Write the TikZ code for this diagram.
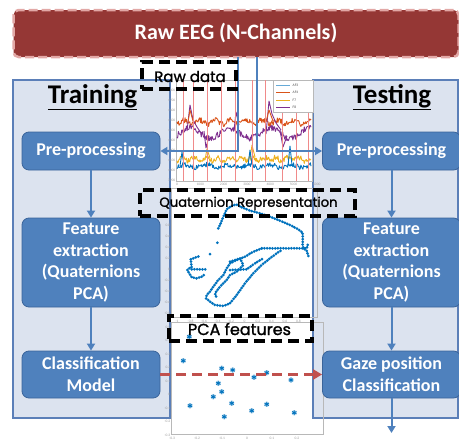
\documentclass[tikz,border=0pt]{standalone}
\usepackage{fontspec}
\setmainfont{Carlito}
\newfontfamily\tagfont{Poppins}[FakeBold=1.4]
\usetikzlibrary{arrows.meta,plotmarks,calc}

\definecolor{panelfill}{HTML}{DCE3EF}
\definecolor{panelline}{HTML}{5B7FB8}
\definecolor{boxfill}{HTML}{4F81BD}
\definecolor{boxline}{HTML}{3A649A}
\definecolor{bannerfill}{HTML}{953735}
\definecolor{bannerline}{HTML}{E2A8A6}
\definecolor{flowred}{HTML}{C0504D}
\definecolor{mblue}{HTML}{0072BD}
\definecolor{morange}{HTML}{D95319}
\definecolor{myellow}{HTML}{EDB120}
\definecolor{mpurple}{HTML}{7E2F8E}
\definecolor{eventred}{HTML}{F08A8A}
\definecolor{axisgray}{HTML}{9A9A9A}

\tikzset{
  panel/.style={draw=panelline, line width=1.5pt, fill=panelfill, inner sep=0pt},
  stepbox/.style={draw=boxline, line width=0.8pt, fill=boxfill, rounded corners=7pt,
    text=white, font=\bfseries\fontsize{18}{21.7}\selectfont, align=center,
    minimum width=138pt, inner sep=2pt},
  paneltitle/.style={font=\bfseries\fontsize{27}{30}\selectfont, text=black, inner sep=0pt},
  banner/.style={fill=bannerfill, draw=bannerline, line width=2.5pt, dash pattern=on 9pt off 4pt,
    rounded corners=5pt, text=white, font=\bfseries\fontsize{22}{26}\selectfont,
    minimum width=445pt, minimum height=47pt},
  flowline/.style={draw=boxfill, line width=2.6pt, -{Triangle[length=7pt,width=8pt]}},
  innerflow/.style={draw=boxfill, line width=2pt, -{Triangle[length=7pt,width=8pt]}},
  redflow/.style={draw=flowred, line width=3pt, dash pattern=on 10pt off 6pt,
    -{Triangle[length=9pt,width=10pt]}},
  tagbox/.style={draw=black, line width=3.2pt, dash pattern=on 11pt off 6pt, inner sep=0pt},
  tagtext/.style={inner sep=0pt},
  ticklabel/.style={font=\fontsize{3.6}{4}\selectfont, text=axisgray, inner sep=0.5pt},
  axisframe/.style={draw=axisgray!70, line width=0.4pt},
  trace/.style={line width=0.9pt, line join=round},
  quatdots/.style={draw=mblue, line width=3pt, dash pattern=on 0pt off 2.7pt, line cap=round, line join=round},
}

\begin{document}
\begin{tikzpicture}[x=1pt,y=-1pt]
\useasboundingbox (0,0) rectangle (459,439);
\clip (0,0) rectangle (459,439);
\pgfmathsetseed{42}

% ---- the two panels ----
\node[panel, minimum width=157pt, minimum height=338pt] (trainpanel) at (91.5,249) {};
\node[panel, minimum width=145pt, minimum height=338pt] (testpanel) at (385.5,249) {};

% ---- raw EEG traces ----
\draw[axisframe] (176,80) rectangle (312,181);
\draw[trace, morange] plot[domain=177:311, samples=200] (\x, {122 + 2.8*rand + 2*sin(\x*23)});
\draw[trace, mpurple] plot[domain=177:311, samples=200] (\x, {133 + 3.2*rand + 5*sin(\x*9)});
\draw[trace, myellow] plot[domain=177:311, samples=200] (\x, {159 + 3*rand + 1.5*sin(\x*31)});
\draw[trace, mblue] plot[domain=177:311, samples=200] (\x, {166 + 2.4*rand + 1.5*sin(\x*17)});
% large transients
\draw[trace, mpurple] (187,131) -- (190,105) -- (193,120) -- (197,127) -- (201,133);
\draw[trace, mpurple] (266,134) -- (269,101) -- (272,114) -- (276,123) -- (281,130);
\draw[trace, mpurple] (204,131) -- (206,148) -- (209,136);
\draw[trace, mpurple] (280,130) -- (283,147) -- (287,136);
\draw[trace, mpurple] (234,131) -- (236,112) -- (239,125);
\draw[trace, myellow] (205,160) -- (207,149) -- (210,158);
\draw[trace, myellow] (250,159) -- (252,145) -- (255,157);
\draw[trace, mblue] (288,166) -- (290,146) -- (292,165);
\draw[trace, mblue] (248,166) -- (250,150) -- (252,165);
\draw[trace, mblue] (180,166) -- (182,152) -- (184,165);
\draw[trace, morange] (266,122) -- (269,110) -- (273,121);
\draw[trace, morange] (188,122) -- (190,110) -- (193,121);
% event markers
\foreach \ex in {183,193,207,221,235,252,265,282,296,308}
  \draw[eventred, line width=0.7pt] (\ex,80) -- (\ex,181);
% legend
\draw[axisframe, fill=white] (273,80) rectangle (313,112);
\draw[mblue!60, line width=0.8pt] (276,85) -- (290,85);
\draw[morange, line width=0.8pt] (276,92.3) -- (290,92.3);
\draw[myellow, line width=0.8pt] (276,100) -- (290,100);
\draw[mpurple, line width=0.8pt] (276,107.3) -- (290,107.3);
\node[ticklabel, anchor=west, text=black!70] (legA) at (292,85) {AF3};
\node[ticklabel, anchor=west, text=black!70] (legB) at (292,92.3) {AF4};
\node[ticklabel, anchor=west, text=black!70] (legC) at (292,100) {F7};
\node[ticklabel, anchor=west, text=black!70] (legD) at (292,107.3) {F8};
% raw axes ticks
\foreach \v [count=\i from 0] in {0,1000,2000,3000,4000,5000,6000}
  \node[ticklabel] (rx\i) at ({177+23.3*\i},184.5) {\v};
\foreach \v [count=\i from 0] in {4800,4700,4600,4500,4400,4300,4200,4100,4000,3900}
  \node[ticklabel, anchor=east] (ry\i) at (176,{90+10*\i}) {\v};

% ---- quaternion trajectory ----
\draw[axisframe] (171,188) rectangle (317,317);
\foreach \v [count=\i from 0] in {0.8,0.6,0.4,0.2,0,-0.2,-0.4,-0.6,-0.8}
  \node[ticklabel, anchor=east] (qy\i) at (171,{225+11*\i}) {\v};
\foreach \v [count=\i from 0] in {-1,-0.8,-0.6,-0.4,-0.2,0,0.2,0.4,0.6,0.8,1}
  \node[ticklabel] (qx\i) at ({177+13.5*\i},321.5) {\v};
\draw[quatdots] (218.3,228.3) -- (220,225) -- (222.7,218.3) -- (225,213.3) -- (226.7,209.3) -- (231.7,206)
  -- (236,204.3) -- (241.7,207.3) -- (250,210.7) -- (260,213.3) -- (270,216.7) -- (280,220.7)
  -- (290,225) -- (298.3,229.3) -- (302.7,232.7) -- (302.7,238.3) -- (302.7,245) -- (303.3,248.3)
  -- (306.7,250.7) -- (308.3,256);
\draw[quatdots] (261.7,248.3) -- (306.7,248.3) -- (308,244);
\draw[quatdots] (217.3,242.7) -- (217.4,242.8);
\draw[quatdots] (210,254) -- (210.1,254.1);
\draw[quatdots] (190.7,259.3) -- (193.3,258.3) -- (200,256);
\draw[quatdots] (191,261.7) -- (191.7,267.3) -- (189.3,268.3) -- (187.3,270) -- (189.3,273.3)
  -- (191.7,277.3) -- (196.7,278.3) -- (201.7,276.7) -- (204,275);
\draw[quatdots] (191.7,269.3) -- (206.7,269.3);
\draw[quatdots] (261.7,248.3) -- (253.3,251.7) -- (245,256.7) -- (236.7,260) -- (230,263.3)
  -- (226.7,268.3) -- (223.3,275) -- (218.3,280) -- (213.3,286.7) -- (210,291.7) -- (206.7,295)
  -- (206,298.3) -- (210,301.7) -- (215,305) -- (223.3,306) -- (230,303.3) -- (236.7,295)
  -- (245,283.3) -- (253.3,273.3) -- (261.7,265) -- (270,258.3) -- (276.7,253.3) -- (281.7,250);
\draw[quatdots] (230,261.7) -- (240,258.3) -- (243.3,265) -- (236.7,271.7) -- (230,275)
  -- (226.7,280) -- (220,286.7) -- (215,293.3) -- (216.7,298.3);
\draw[quatdots] (230,270) -- (246.7,269.3) -- (255,263.3) -- (263.3,258.3);

% ---- PCA scatter ----
\draw[axisframe] (171,322) rectangle (323,434);
\foreach \v [count=\i from 0] in {0.5,0.4,0.3,0.2,0.1,0,-0.1,-0.2,-0.3}
  \node[ticklabel, anchor=east] (py\i) at (171,{327+13.5*\i}) {\v};
\foreach \v [count=\i from 0] in {-0.3,-0.2,-0.1,0,0.1,0.2}
  \node[ticklabel] (px\i) at ({172+25*\i},438) {\v};
\draw[mblue!35, line width=1.8pt] plot[only marks, mark=asterisk, mark size=2.6pt] coordinates {
  (189.3,336.7) (183.3,360.7) (190,405.7) (221.7,368.3) (232.7,370) (218.3,383.3) (221.7,391.7)
  (213.3,396.7) (231.7,403.3) (224.3,416.7) (254,377.3) (266.7,372.7) (266.7,404.3) (251.7,410.7)
  (291,380) (294.3,412.7)};
\draw[mblue, line width=0.8pt] plot[only marks, mark=asterisk, mark size=2.4pt] coordinates {
  (189.3,336.7) (183.3,360.7) (190,405.7) (221.7,368.3) (232.7,370) (218.3,383.3) (221.7,391.7)
  (213.3,396.7) (231.7,403.3) (224.3,416.7) (254,377.3) (266.7,372.7) (266.7,404.3) (251.7,410.7)
  (291,380) (294.3,412.7)};

% ---- panel titles ----
\node[paneltitle] (traintitle) at (92.5,97) {\underline{Training}};
\node[paneltitle] (testtitle) at (392,97) {\underline{Testing}};

% ---- processing steps ----
\node[stepbox, minimum height=38pt] (lpre) at (91,151) {Pre-processing};
\node[stepbox, minimum height=89pt] (lfeat) at (91,262.5) {Feature\\extraction\\(Quaternions\\PCA)};
\node[stepbox, minimum height=47pt] (lclass) at (91,374.5) {Classification\\Model};
\node[stepbox, minimum height=38pt] (rpre) at (391.5,151) {Pre-processing};
\node[stepbox, minimum height=89pt] (rfeat) at (391.5,262.5) {Feature\\extraction\\(Quaternions\\PCA)};
\node[stepbox, minimum height=47pt] (rgaze) at (391.5,374.5) {Gaze position\\Classification};
\coordinate (result) at (391.5,433);

\draw[innerflow] (lpre) -- (lfeat);
\draw[innerflow] (lfeat) -- (lclass);
\draw[innerflow] (rpre) -- (rfeat);
\draw[innerflow] (rfeat) -- (rgaze);
\draw[innerflow] (rgaze) -- (result);

% ---- source banner and its two branches ----
\node[banner] (eeg) at (236,33.5) {Raw EEG (N-Channels)};
\draw[flowline] ([xshift=2pt,yshift=1pt]eeg.south) |- (lpre.east);
\draw[flowline] ([xshift=21pt,yshift=1pt]eeg.south) |- (rpre.west);

% ---- trained model handed to the test stage ----
\draw[redflow] (lclass.east) -- (rgaze.west);

% ---- dashed captions ----
\node[tagbox, minimum width=94pt, minimum height=27pt] (rawtag) at (189,75.5) {};
\node[tagtext, font=\tagfont\fontsize{15}{17}\selectfont] (rawtext) at (190,76.5) {Raw data};
\node[tagbox, minimum width=215pt, minimum height=26pt] (quattag) at (247.5,203) {};
\node[tagtext, font=\tagfont\fontsize{13.2}{15}\selectfont] (quattext) at (248.5,203.5) {Quaternion Representation};
\node[tagbox, minimum width=143pt, minimum height=25pt] (pcatag) at (240.5,328.5) {};
\node[tagtext, font=\tagfont\fontsize{16}{18}\selectfont] (pcatext) at (239.5,329) {PCA features};
\end{tikzpicture}
\end{document}
